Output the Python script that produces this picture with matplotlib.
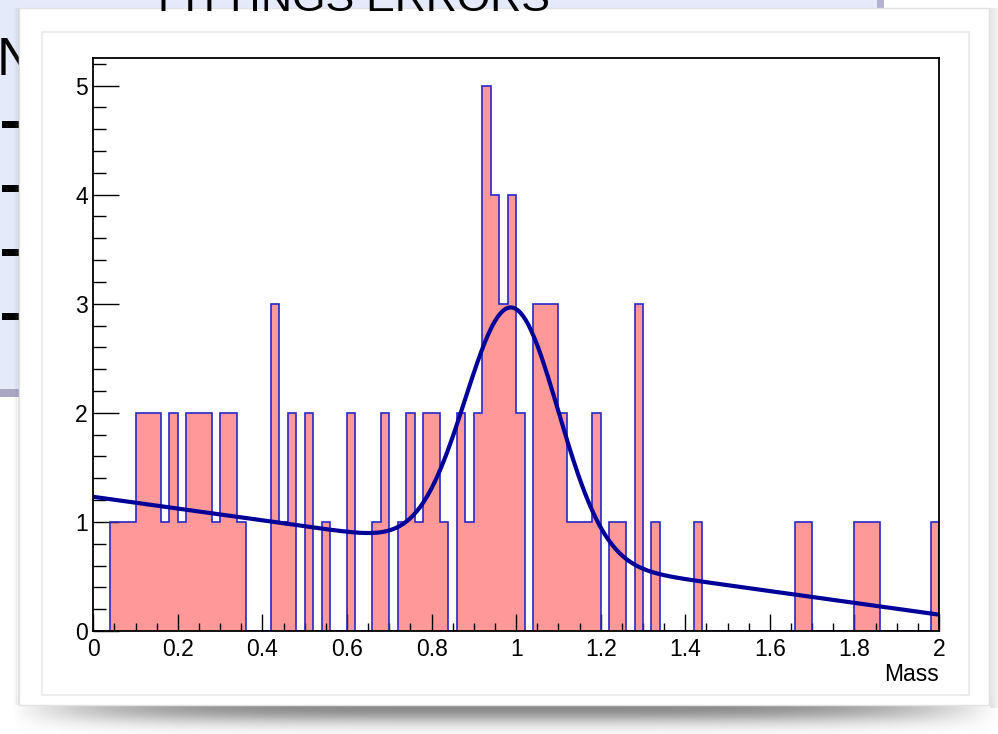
import numpy as np
import matplotlib
matplotlib.use("Agg")
import matplotlib.pyplot as plt
from matplotlib.patches import Rectangle
from matplotlib.ticker import MultipleLocator

plt.rcParams['font.family'] = ['Liberation Sans', 'DejaVu Sans']

# ---- data ----
x_min, x_max, n_bins = 0.0, 2.0, 100
counts = [0, 0, 1, 1, 1, 2, 2, 2, 1, 2,
          1, 2, 2, 2, 1, 2, 2, 1, 0, 0,
          0, 3, 1, 2, 0, 2, 0, 1, 0, 0,
          2, 0, 0, 1, 2, 0, 1, 2, 1, 2,
          2, 1, 0, 2, 1, 2, 5, 4, 3, 4,
          2, 0, 3, 3, 3, 2, 1, 1, 1, 2,
          0, 1, 1, 0, 3, 0, 1, 0, 0, 0,
          0, 1, 0, 0, 0, 0, 0, 0, 0, 0,
          0, 0, 0, 1, 1, 0, 0, 0, 0, 0,
          1, 1, 1, 0, 0, 0, 0, 0, 0, 1]
# fit: linear background + gaussian peak (parameters)
bkg_const = 1.23
bkg_slope = -0.54
peak_amp = 2.27
peak_mean = 0.99
peak_sigma = 0.11
x_label = "Mass"
x_ticks = [0, 0.2, 0.4, 0.6, 0.8, 1, 1.2, 1.4, 1.6, 1.8, 2]
x_ticklabels = ["0", "0.2", "0.4", "0.6", "0.8", "1", "1.2", "1.4", "1.6", "1.8", "2"]
y_ticks = [0, 1, 2, 3, 4, 5]
slide_title = "FITTINGS ERRORS"
slide_letter = "N"

W, H = 998, 734
fig = plt.figure(figsize=(W / 100, H / 100), dpi=100)
fig.patch.set_facecolor("white")

# ---- background (slide + card) ----
bg = fig.add_axes([0, 0, 1, 1], zorder=0)
bg.set_xlim(0, W)
bg.set_ylim(H, 0)
bg.axis("off")

bg.add_patch(Rectangle((0, 0), 880, 392, facecolor="#e5eafb", edgecolor="none", zorder=1))
bg.add_patch(Rectangle((877, 0), 7, 395, facecolor="#b4b0d0", edgecolor="none", zorder=1))
bg.add_patch(Rectangle((0, 389), 884, 8, facecolor="#aaa7c4", edgecolor="none", zorder=1))
bg.text(-3, 75, slide_letter, fontsize=38, color="black", va="baseline", ha="left", zorder=2)
for yd in [124, 188, 252, 316]:
    bg.add_patch(Rectangle((2, yd - 3.5), 22, 7, facecolor="black", edgecolor="none", zorder=2))

# card shadow (smooth gradient)
sx = np.linspace(-1, 1, 600)
sy = np.linspace(0, 1, 80)
fx = np.clip(1 - np.abs(sx) ** 4, 0, 1)
gy = np.exp(-((sy - 0.3) / 0.42) ** 2)
alpha = 0.7 * np.outer(gy, fx)
rgba = np.zeros((80, 600, 4))
rgba[..., :3] = 0.35
rgba[..., 3] = alpha
bg.imshow(rgba, extent=(12, 998, 734, 696), aspect="auto", zorder=3, interpolation="bilinear")
# side shadows
for i, a in enumerate([0.05, 0.08, 0.12]):
    bg.add_patch(Rectangle((14 + i * 2, 8), 3, 697, facecolor="#808080", alpha=a, edgecolor="none", zorder=3))
    bg.add_patch(Rectangle((996 - i * 3, 8), 3, 700, facecolor="#808080", alpha=a + 0.06, edgecolor="none", zorder=3))
# card
bg.add_patch(Rectangle((19, 8), 970, 697, facecolor="white", edgecolor="#e2e2e2", lw=1.0, zorder=4))
# canvas border
bg.add_patch(Rectangle((42, 32), 927, 663, facecolor="none", edgecolor="#ececec", lw=1.5, zorder=5))
# slide title bottoms peeking over the card
bg.text(158, 11, slide_title, fontsize=31, color="black", va="baseline", ha="left", zorder=6)

# ---- main plot ----
left, right, top, bottom = 93.3, 939.0, 58.3, 631.0
ax = fig.add_axes([left / W, 1 - bottom / H, (right - left) / W, (bottom - top) / H], zorder=2)
ax.set_facecolor("white")

edges = np.linspace(x_min, x_max, n_bins + 1)
ax.stairs(counts, edges, fill=True, color="#ff9999", zorder=1)
ax.stairs(counts, edges, color="#2828c8", lw=1.2, zorder=2)

xf = np.linspace(x_min, x_max, 500)
yf = bkg_const + bkg_slope * xf + peak_amp * np.exp(-0.5 * ((xf - peak_mean) / peak_sigma) ** 2)
ax.plot(xf, yf, color="#000099", lw=3.0, zorder=3, solid_capstyle="butt")

ax.set_xlim(x_min, x_max)
ax.set_ylim(0, max(counts) * 1.05)

for s in ax.spines.values():
    s.set_linewidth(1.3)
    s.set_color("black")
    s.set_zorder(5)

ax.set_xticks(x_ticks)
ax.set_xticklabels(x_ticklabels)
ax.set_yticks(y_ticks)
ax.xaxis.set_minor_locator(MultipleLocator(0.05))
ax.yaxis.set_minor_locator(MultipleLocator(0.2))
ax.tick_params(axis="x", which="major", direction="in", length=12, width=1.0, labelsize=16.5, pad=5)
ax.tick_params(axis="x", which="minor", direction="in", length=6, width=1.0)
ax.tick_params(axis="y", which="major", direction="in", length=18.5, width=1.0, labelsize=16.5, pad=4)
ax.tick_params(axis="y", which="minor", direction="in", length=9.4, width=1.0)
ax.tick_params(top=False, right=False, which="both")

ax.text(1.0, -0.056, x_label, transform=ax.transAxes, ha="right", va="top", fontsize=16.5)

fig.savefig("out.png", dpi=100)
